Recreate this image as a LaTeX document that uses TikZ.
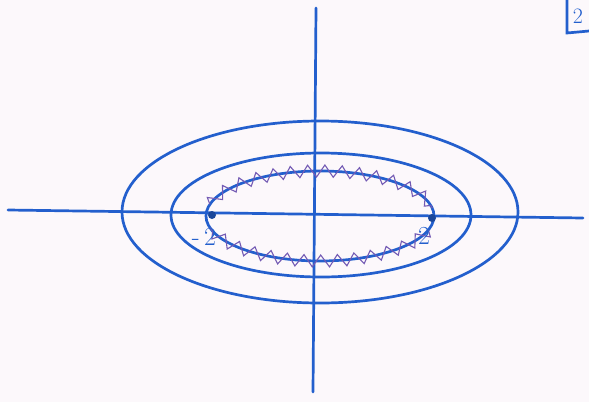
\documentclass[tikz,border=0pt]{standalone}
\usepackage{tikz}
\usetikzlibrary{decorations.pathmorphing}
\usepackage{xcolor}
\definecolor{ink}{RGB}{35,95,205}
\definecolor{hatchink}{RGB}{115,90,180}
\definecolor{paper}{RGB}{252,248,251}

\begin{document}
\begin{tikzpicture}[
    x=1pt, y=-1pt,
    pen/.style={
      draw=ink, line width=2.7pt, line cap=round
    },
    hatchline/.style={
      draw=hatchink, line width=1.1pt, decorate,
      decoration={zigzag, segment length=17pt, amplitude=6pt}
    },
    marker/.style={
      circle, fill=ink!75!black, inner sep=0pt, minimum size=8pt
    },
    num/.style={
      text=ink, font=\fontsize{26}{28}\selectfont, inner sep=0pt
    }
  ]
  % --- Paper ---
  \fill[paper] (0,0) rectangle (589,402);
  \useasboundingbox (0,0) rectangle (589,402);

  % --- Axes ---
  \coordinate (xl) at (8,210);
  \coordinate (xr) at (583,218);
  \coordinate (yt) at (316,8);
  \coordinate (yb) at (313,392);
  \draw[pen] (xl) -- (xr);
  \draw[pen] (yt) -- (yb);

  % --- Level curves ---
  \coordinate (co) at (320,212);
  \coordinate (cm) at (321,215);
  \coordinate (ci) at (320,216);
  \draw[pen] (co) ellipse[x radius=198, y radius=91];
  \draw[pen] (cm) ellipse[x radius=150, y radius=62];
  \draw[pen] (ci) ellipse[x radius=114, y radius=45];

  % --- Hatching of the inner region ---
  \draw[hatchline] ([shift={(195:114 and 45)}]ci)
    arc[start angle=195, end angle=350, x radius=114, y radius=45];
  \draw[hatchline] ([shift={(18:114 and 45)}]ci)
    arc[start angle=18, end angle=165, x radius=114, y radius=45];

  % --- End points ---
  \node[marker] (lp) at (212,215) {};
  \node[marker] (rp) at (432,218) {};
  \node[num] (lm) at (204,237) {-\,2};
  \node[num] (rm) at (424,236) {2};

  % --- Corner box ---
  \coordinate (bt) at (567,0);
  \coordinate (bc) at (567,33);
  \coordinate (br) at (589,31);
  \draw[pen] (bt) -- (bc) -- (br);
  \node[num, font=\fontsize{22}{24}\selectfont] (tag) at (578,16) {2};
\end{tikzpicture}
\end{document}
